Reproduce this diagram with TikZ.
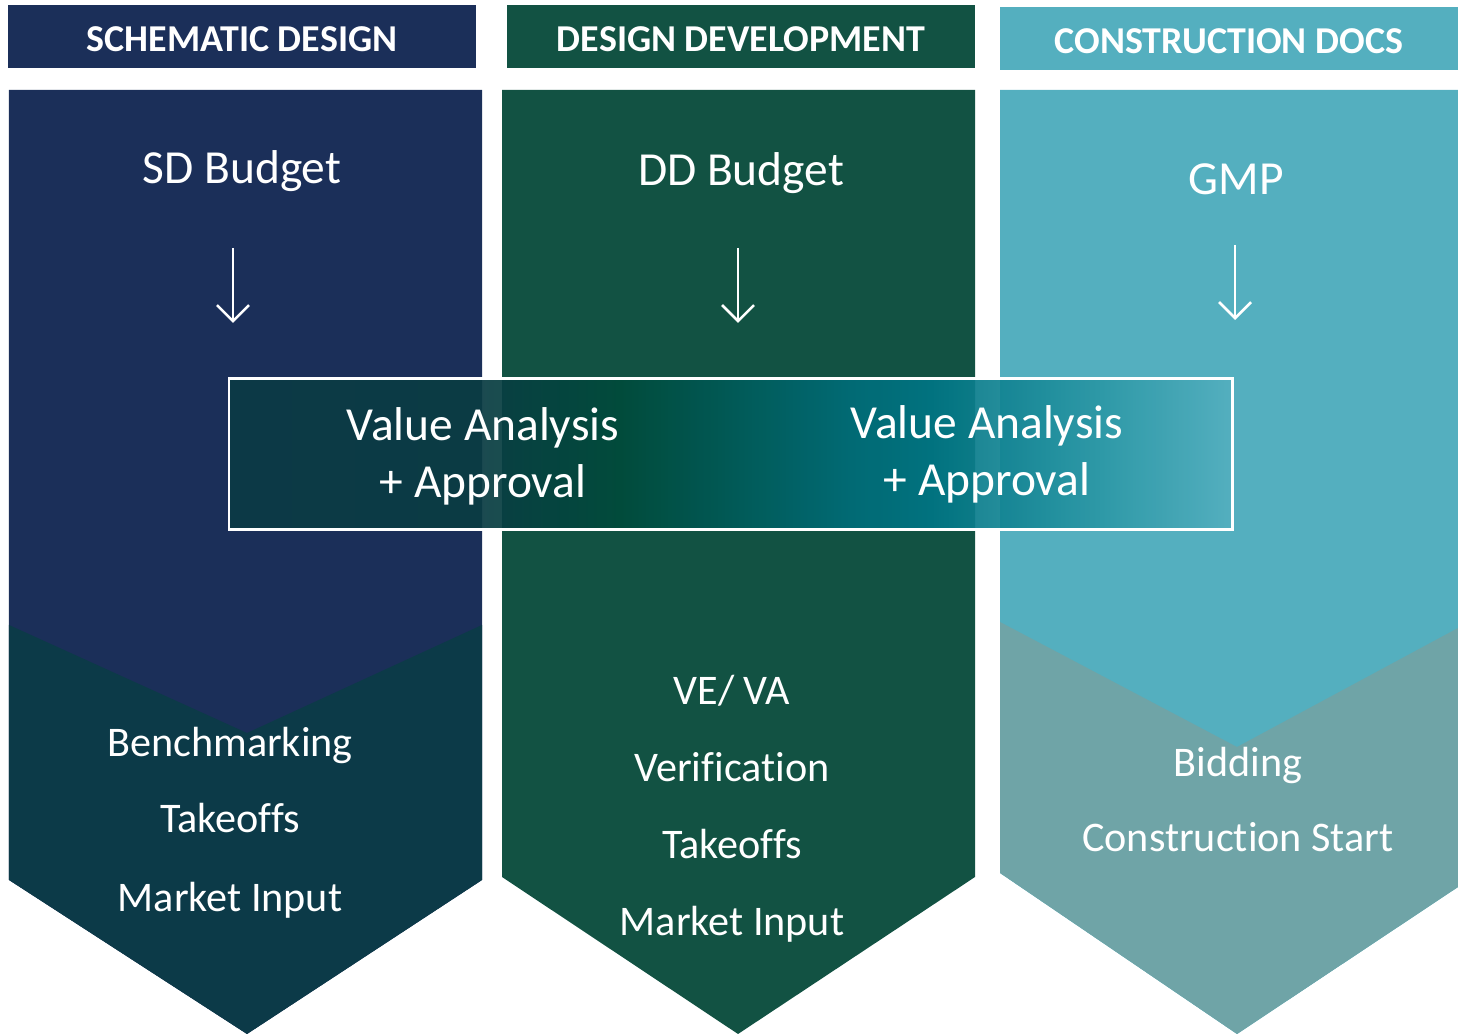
\documentclass[tikz,border=0pt]{standalone}
\usepackage{fontspec}
\setmainfont{Carlito}[Ligatures=CommonOff]
\usetikzlibrary{arrows.meta}

\definecolor{sdnavy}{HTML}{1B2F59}
\definecolor{sdlow}{HTML}{0C3A48}
\definecolor{ddgreen}{HTML}{125243}
\definecolor{cdteal}{HTML}{54AFBF}
\definecolor{cdlow}{HTML}{6FA4A7}
\definecolor{va0}{HTML}{0B3A45}
\definecolor{va1}{HTML}{0A3C43}
\definecolor{va2}{HTML}{004B3B}
\definecolor{va3}{HTML}{005650}
\definecolor{va4}{HTML}{006C78}
\definecolor{va5}{HTML}{007584}
\definecolor{va6}{HTML}{2C98A6}
\definecolor{va7}{HTML}{54AFBF}

\pgfdeclarehorizontalshading{vashade}{100bp}{color(0bp)=(va0); color(25bp)=(va0);
  color(37.5bp)=(va1); color(44.5bp)=(va2); color(48.5bp)=(va3); color(56bp)=(va4);
  color(60bp)=(va5); color(68.5bp)=(va6); color(75bp)=(va7); color(100bp)=(va7)}

\tikzset{
  head/.style={minimum width=4.68cm, minimum height=0.63cm, inner sep=0pt,
    text height=0.30cm, text depth=0cm,
    text=white, font=\fontsize{10.8}{12}\selectfont\bfseries},
  budget/.style={text=white, anchor=base, font=\fontsize{13.5}{16}\selectfont},
  item/.style={text=white, anchor=base, font=\fontsize{12}{14}\selectfont},
  flowarrow/.style={white, line width=0.75pt, -{Straight Barb[length=1.6mm,width=3.2mm]}}
}

\begin{document}
\begin{tikzpicture}
    \useasboundingbox (0,0) rectangle (14.58,10.34);

    % phase headers
    \node[head, fill=sdnavy] (sdhead) at (2.42,9.975) {SCHEMATIC DESIGN};
    \node[head, fill=ddgreen] (ddhead) at (7.41,9.975) {DESIGN DEVELOPMENT};
    \node[head, fill=cdteal, minimum width=4.58cm] (cdhead) at (12.29,9.955) {CONSTRUCTION DOCS};

    % chevron columns
    \fill[sdnavy] (0.09,9.44) -- (4.82,9.44) -- (4.82,1.54) -- (2.47,0) -- (0.09,1.54) -- cycle;
    \fill[sdlow] (0.09,4.09) -- (2.47,3.01) -- (4.82,4.09) -- (4.82,1.54) -- (2.47,0) -- (0.09,1.54) -- cycle;

    \fill[ddgreen] (5.02,9.44) -- (9.75,9.44) -- (9.75,1.57) -- (7.38,0) -- (5.02,1.57) -- cycle;

    \fill[cdteal] (10.00,9.44) -- (14.58,9.44) -- (14.58,1.47) -- (12.37,0) -- (10.00,1.61) -- cycle;
    \fill[cdlow] (10.00,4.12) -- (12.37,2.87) -- (14.58,4.06) -- (14.58,1.47) -- (12.37,0) -- (10.00,1.61) -- cycle;

    % budgets
    \node[budget] (sdbudget) at (2.42,8.50) {SD Budget};
    \node[budget] (ddbudget) at (7.41,8.48) {DD Budget};
    \node[budget] (gmp) at (12.36,8.39) {GMP};

    \coordinate (sdfrom) at (2.33,7.86);
    \coordinate (sdto) at (2.33,7.11);
    \coordinate (ddfrom) at (7.38,7.86);
    \coordinate (ddto) at (7.38,7.11);
    \coordinate (cdfrom) at (12.35,7.89);
    \coordinate (cdto) at (12.35,7.14);
    \draw[flowarrow] (sdfrom) -- (sdto);
    \draw[flowarrow] (ddfrom) -- (ddto);
    \draw[flowarrow] (cdfrom) -- (cdto);

    % value analysis band
    \node[draw=white, line width=0.85pt, shading=vashade, fill opacity=0.93,
      minimum width=10.03cm, minimum height=1.51cm, inner sep=0pt] (vabox) at (7.305,5.795) {};
    \node[budget] (va1a) at (4.83,5.93) {Value Analysis};
    \node[budget] (va1b) at (4.83,5.36) {+ Approval};
    \node[budget] (va2a) at (9.87,5.95) {Value Analysis};
    \node[budget] (va2b) at (9.87,5.38) {+ Approval};

    % tasks
    \foreach \txt/\y [count=\i] in {Benchmarking/2.77, Takeoffs/2.01, Market Input/1.22}
      \node[item] (sd\i) at (2.30,\y) {\txt};
    \foreach \txt/\y [count=\i] in {{VE/ VA}/3.29, Verification/2.52, Takeoffs/1.75, Market Input/0.98}
      \node[item] (dd\i) at (7.32,\y) {\txt};
    \foreach \txt/\y [count=\i] in {Bidding/2.57, Construction Start/1.82}
      \node[item] (cd\i) at (12.38,\y) {\txt};

\end{tikzpicture}
\end{document}
